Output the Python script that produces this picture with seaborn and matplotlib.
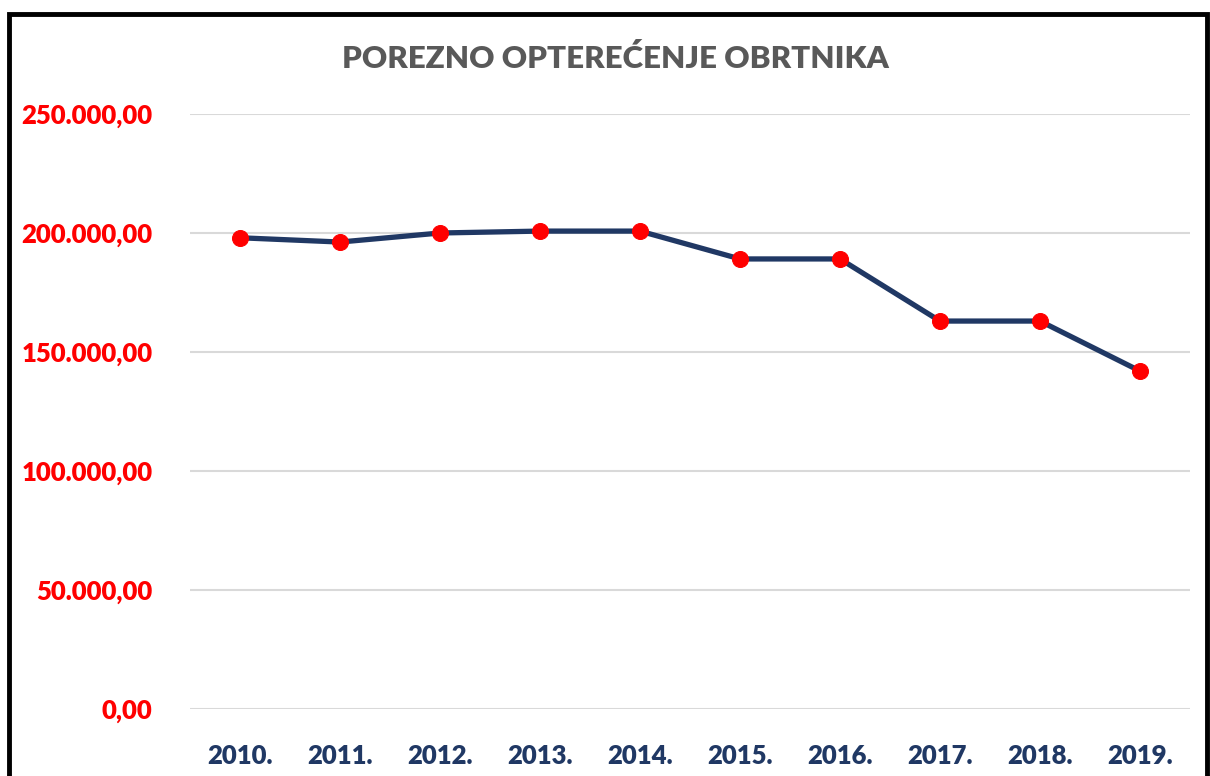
import matplotlib
matplotlib.use("Agg")
import matplotlib.pyplot as plt
from matplotlib.patches import Rectangle
from matplotlib.ticker import FuncFormatter
import pandas as pd
import seaborn as sns

# Data
years = ["2010.", "2011.", "2012.", "2013.", "2014.",
         "2015.", "2016.", "2017.", "2018.", "2019."]
amounts = [198000, 196200, 200000, 200800, 200800,
           189100, 189100, 163000, 163000, 142000]
y_ticks = [0, 50000, 100000, 150000, 200000, 250000]

TITLE = "POREZNO OPTEREĆENJE OBRTNIKA"
NAVY = "#203864"
RED = "#FF0000"
GREY = "#595959"

sns.set_theme(style="white")
plt.rcParams["font.family"] = ["Lato", "DejaVu Sans"]

df = pd.DataFrame({"godina": years, "iznos": amounts})


def hr_format(v, pos):
    # 250000 -> 250.000,00
    s = f"{v:,.2f}"
    return s.replace(",", "X").replace(".", ",").replace("X", ".")


fig = plt.figure(figsize=(12.1, 7.76), dpi=100)
ax = fig.add_axes([190 / 1210, 1 - 709 / 776, 1000 / 1210, 595 / 776])

sns.lineplot(data=df, x="godina", y="iznos", ax=ax, color=NAVY, linewidth=3.8,
             marker="o", markersize=11.5, markerfacecolor=RED,
             markeredgecolor=RED, zorder=3)

ax.set_xlim(-0.5, len(years) - 0.5)
ax.set_ylim(0, 250000)
ax.set_yticks(y_ticks)
ax.yaxis.set_major_formatter(FuncFormatter(hr_format))
ax.grid(axis="y", color="#D9D9D9", linewidth=1.5)
ax.grid(axis="x", visible=False)
for s in ax.spines.values():
    s.set_visible(False)
ax.set_xlabel("")
ax.set_ylabel("")
ax.tick_params(axis="y", length=0, pad=27, labelsize=18.5, labelcolor=RED)
ax.tick_params(axis="x", length=0, pad=25, labelsize=18.5, labelcolor=NAVY)
for lbl in ax.get_xticklabels() + ax.get_yticklabels():
    lbl.set_fontweight("heavy")

fig.text(615 / 1210, 1 - 58 / 776, TITLE, ha="center", va="center",
         fontsize=22.5, fontweight="heavy", color=GREY)

# outer chart border (bottom edge falls outside the picture)
fig.patches.append(Rectangle((9 / 1210, -0.1), 1198 / 1210, 1.1 - 14 / 776,
                             transform=fig.transFigure, fill=False,
                             edgecolor="black", linewidth=3.5))

fig.savefig("out.png", dpi=100)
